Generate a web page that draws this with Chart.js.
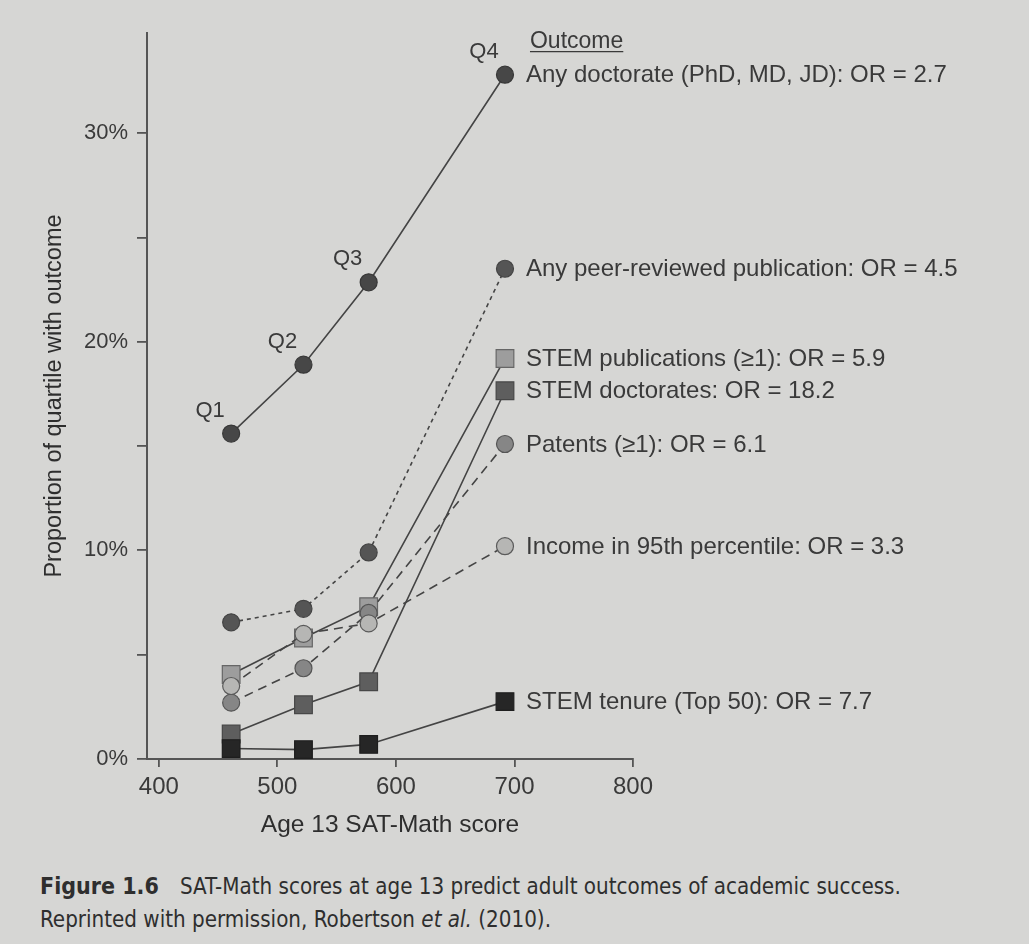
<!DOCTYPE html>
<html>
<head>
<meta charset="utf-8">
<script src="https://cdn.jsdelivr.net/npm/chart.js@4.4.1/dist/chart.umd.min.js"></script>
<style>
  html, body { margin: 0; padding: 0; }
  body { width: 1029px; height: 944px; background: #d6d6d4; position: relative; overflow: hidden; }
  #wrap { position: absolute; left: 0; top: 0; width: 1029px; height: 860px; }
  #caption { position: absolute; left: 40px; top: 870px; font-family: "Liberation Sans Narrow", "DejaVu Sans Condensed", sans-serif; font-size: 22.2px; line-height: 33px; color: #2e2e2e; }
  #caption b { margin-right: 21px; font-size: 23px; }
</style>
</head>
<body>
<div id="wrap"><canvas id="c" width="1029" height="860"></canvas></div>
<div id="caption"><b>Figure 1.6</b>SAT-Math scores at age 13 predict adult outcomes of academic success.<br>Reprinted with permission, Robertson <i>et al.</i> (2010).</div>
<script>
// Quartile mean SAT-Math scores (x)
const quartiles = ["Q1", "Q2", "Q3", "Q4"];
const satScores = [461, 522, 577, 692];

// Proportion (%) of each quartile with outcome
const anyDoctorate = [15.6, 18.9, 22.85, 32.8];
const peerReviewed = [6.55, 7.2, 9.9, 23.5];
const stemPublications = [4.05, 5.8, 7.3, 19.2];
const stemDoctorates = [1.2, 2.6, 3.7, 17.65];
const patents = [2.7, 4.35, 7.0, 15.1];
const income95 = [3.5, 6.0, 6.5, 10.2];
const stemTenure = [0.5, 0.45, 0.7, 2.75];

const outcomeLabels = {
  anyDoctorate: "Any doctorate (PhD, MD, JD): OR = 2.7",
  peerReviewed: "Any peer-reviewed publication: OR = 4.5",
  stemPublications: "STEM publications (\u22651): OR = 5.9",
  stemDoctorates: "STEM doctorates: OR = 18.2",
  patents: "Patents (\u22651): OR = 6.1",
  income95: "Income in 95th percentile: OR = 3.3",
  stemTenure: "STEM tenure (Top 50): OR = 7.7"
};

const xTicks = [400, 500, 600, 700, 800];
const yTicks = [0, 5, 10, 15, 20, 25, 30];
const yLabelled = [0, 10, 20, 30];

const pts = vals => vals.map((v, i) => ({ x: satScores[i], y: v }));
const LINE = '#444444';
const FONT = '"Liberation Sans", Arial, sans-serif';

function ds(key, vals, style, fill, border, dash) {
  return {
    key: key,
    label: outcomeLabels[key],
    data: pts(vals),
    showLine: true,
    borderColor: LINE,
    borderWidth: 1.6,
    borderDash: dash,
    pointStyle: style,
    pointRadius: style === 'rect' ? 12.5 : 8.5,
    pointHoverRadius: style === 'rect' ? 12.5 : 8.5,
    pointBackgroundColor: fill,
    pointBorderColor: border,
    pointBorderWidth: 1.2,
    tension: 0
  };
}

const datasets = [
  ds('income95', income95, 'circle', '#b6b6b4', '#5a5a5a', [9, 6]),
  ds('patents', patents, 'circle', '#868686', '#555555', [9, 6]),
  ds('peerReviewed', peerReviewed, 'circle', '#555555', '#444444', [4, 4]),
  ds('anyDoctorate', anyDoctorate, 'circle', '#474747', '#383838', []),
  ds('stemTenure', stemTenure, 'rect', '#262626', '#1e1e1e', []),
  ds('stemDoctorates', stemDoctorates, 'rect', '#5e5e5e', '#474747', []),
  ds('stemPublications', stemPublications, 'rect', '#9d9d9d', '#666666', [])
];

const annotate = {
  id: 'annotate',
  afterDatasetsDraw(chart) {
    const ctx = chart.ctx;
    ctx.save();
    ctx.fillStyle = '#3a3a3a';
    ctx.font = '24px ' + FONT;
    ctx.textBaseline = 'middle';
    ctx.textAlign = 'left';
    chart.data.datasets.forEach((d, i) => {
      const p = chart.getDatasetMeta(i).data[3];
      ctx.fillText(d.label, p.x + 21, p.y + 1);
    });
    // Quartile labels near the "Any doctorate" points
    const idx = chart.data.datasets.findIndex(d => d.key === 'anyDoctorate');
    const meta = chart.getDatasetMeta(idx);
    ctx.font = '22px ' + FONT;
    ctx.textAlign = 'center';
    quartiles.forEach((q, i) => {
      const p = meta.data[i];
      ctx.fillText(q, p.x - 21, p.y - 23);
    });
    // Legend heading
    const first = meta.data[3];
    ctx.font = '23px ' + FONT;
    ctx.textAlign = 'left';
    ctx.textBaseline = 'alphabetic';
    const hx = first.x + 25, hy = first.y - 27;
    ctx.fillText('Outcome', hx, hy);
    const w = ctx.measureText('Outcome').width;
    ctx.strokeStyle = '#3a3a3a';
    ctx.lineWidth = 1.2;
    ctx.beginPath();
    ctx.moveTo(hx, hy + 4);
    ctx.lineTo(hx + w, hy + 4);
    ctx.stroke();
    ctx.restore();
  }
};

new Chart(document.getElementById('c'), {
  type: 'scatter',
  data: { datasets: datasets },
  plugins: [annotate],
  options: {
    responsive: false,
    animation: false,
    layout: { padding: { top: 33, right: 396, bottom: 0, left: 0 } },
    plugins: { legend: { display: false }, tooltip: { enabled: false } },
    scales: {
      x: {
        type: 'linear',
        min: 390,
        max: 800,
        afterBuildTicks: s => { s.ticks = xTicks.map(v => ({ value: v })); },
        afterFit: s => { s.height = 101; },
        ticks: { color: '#3a3a3a', font: { family: FONT, size: 24 }, padding: 6 },
        grid: { drawOnChartArea: false, drawTicks: true, tickLength: 8, color: '#555555', lineWidth: 1.8 },
        border: { display: true, color: '#555555', width: 2 },
        title: { display: true, text: 'Age 13 SAT-Math score', color: '#2e2e2e', font: { family: FONT, size: 24.5 }, padding: { top: 0, bottom: 20 } }
      },
      y: {
        type: 'linear',
        min: 0,
        max: 34.8,
        afterBuildTicks: s => { s.ticks = yTicks.map(v => ({ value: v })); },
        afterFit: s => { s.width = 147; },
        ticks: {
          color: '#3a3a3a',
          font: { family: FONT, size: 22 },
          padding: 9,
          callback: v => yLabelled.includes(v) ? v + '%' : ''
        },
        grid: { drawOnChartArea: false, drawTicks: true, tickLength: 10, color: '#555555', lineWidth: 1.8 },
        border: { display: true, color: '#555555', width: 2 },
        title: { display: true, text: 'Proportion of quartile with outcome', color: '#2e2e2e', font: { family: FONT, size: 23.5 }, padding: { top: 40, bottom: 0 } }
      }
    }
  }
});
</script>
</body>
</html>
